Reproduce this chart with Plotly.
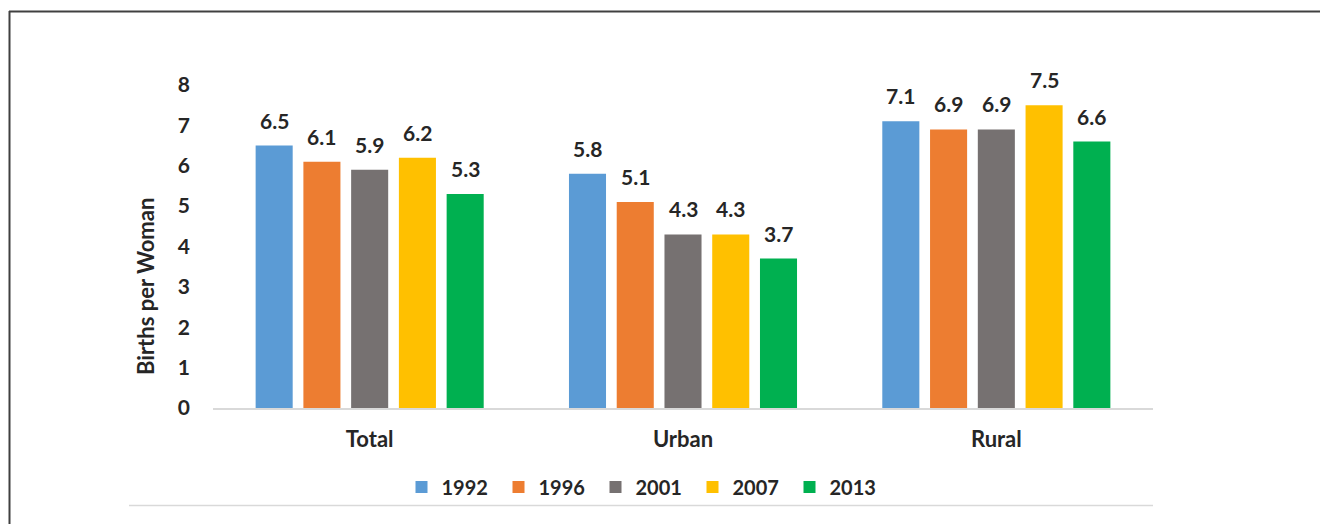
import plotly.graph_objects as go

categories = ["Total", "Urban", "Rural"]
years = ["1992", "1996", "2001", "2007", "2013"]
values_1992 = [6.5, 5.8, 7.1]
values_1996 = [6.1, 5.1, 6.9]
values_2001 = [5.9, 4.3, 6.9]
values_2007 = [6.2, 4.3, 7.5]
values_2013 = [5.3, 3.7, 6.6]
series = [values_1992, values_1996, values_2001, values_2007, values_2013]
colors = ["#5B9BD5", "#ED7D31", "#767171", "#FFC000", "#00B050"]
y_ticks = [0, 1, 2, 3, 4, 5, 6, 7, 8]

FONT = "Lato"
TXT = "#262626"
W, H = 1320, 524
ML, MR, MT, MB = 213, 167, 85, 116
PW = W - ML - MR
PH = H - MT - MB
BARGAP = 0.238


def px_x(p):
    return (p - ML) / PW


def px_y(p):
    return (H - MB - p) / PH


fig = go.Figure()
n = len(series)
for j, (yr, vals, col) in enumerate(zip(years, series, colors)):
    fig.add_trace(go.Bar(
        name=yr, x=categories, y=vals, marker=dict(color=col, line=dict(width=0)),
    ))

annotations = []
slot = (1 - BARGAP) / n
for j, vals in enumerate(series):
    for i, v in enumerate(vals):
        annotations.append(dict(
            x=i + (j - (n - 1) / 2) * slot, y=v, xref="x", yref="y",
            text=f"<b>{v:.1f}</b>", showarrow=False, yanchor="bottom",
            yshift=11, font=dict(family=FONT, size=21, color=TXT),
        ))

annotations.append(dict(
    x=px_x(145), y=px_y(287), xref="paper", yref="paper",
    xanchor="center", yanchor="middle",
    text="<b>Births per Woman</b>", textangle=-90, showarrow=False,
    font=dict(family=FONT, size=22, color=TXT),
))

shapes = [
    dict(type="line", xref="paper", yref="paper", x0=px_x(9), x1=px_x(1320),
         y0=px_y(11.5), y1=px_y(11.5), line=dict(color="#404040", width=2)),
    dict(type="line", xref="paper", yref="paper", x0=px_x(9.5), x1=px_x(9.5),
         y0=px_y(11), y1=px_y(524), line=dict(color="#404040", width=2)),
    dict(type="line", xref="paper", yref="paper", x0=px_x(129), x1=px_x(1153),
         y0=px_y(505.5), y1=px_y(505.5), line=dict(color="#d9d9d9", width=1.5)),
]

fig.update_layout(
    width=W, height=H,
    margin=dict(l=ML, r=MR, t=MT, b=MB, pad=0),
    paper_bgcolor="white", plot_bgcolor="white",
    barmode="group", bargap=BARGAP, bargroupgap=0.224,
    font=dict(family=FONT, color=TXT),
    showlegend=True,
    legend=dict(
        orientation="h", x=px_x(644), xanchor="center", y=px_y(487), yanchor="middle",
        font=dict(family=FONT, size=20, color=TXT, weight="bold"),
        entrywidth=52, entrywidthmode="pixels", traceorder="normal",
        bgcolor="rgba(0,0,0,0)",
    ),
    xaxis=dict(
        showline=True, linecolor="#d9d9d9", linewidth=1.5,
        showgrid=False, ticks="", ticklabelstandoff=11,
        tickfont=dict(family=FONT, size=22, color=TXT, weight="bold"),
    ),
    yaxis=dict(
        range=[0, 8], tickvals=y_ticks, showgrid=False, zeroline=False,
        showline=False, ticks="", ticklabelstandoff=22,
        tickfont=dict(family=FONT, size=21, color=TXT, weight="bold"),
    ),
    annotations=annotations,
    shapes=shapes,
)

fig.write_html("out.html", config={"displayModeBar": False},
               post_script="document.body.style.margin='0';")
